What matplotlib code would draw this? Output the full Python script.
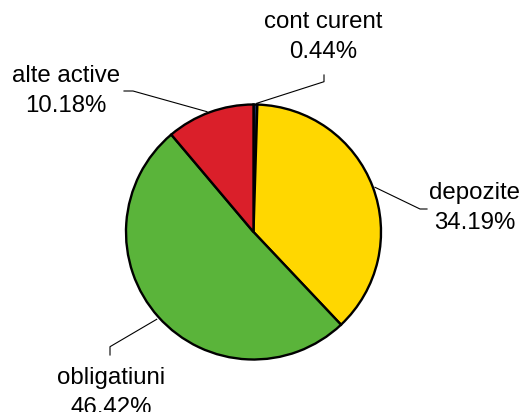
import matplotlib
matplotlib.use("Agg")
import matplotlib.pyplot as plt

plt.rcParams['font.family'] = ['Liberation Sans', 'DejaVu Sans']

categories = ["cont curent", "depozite", "obligatiuni", "alte active"]
values = [0.44, 34.19, 46.42, 10.18]
colors = ["#1F2D5C", "#FFD700", "#5AB43A", "#DA1F2A"]

W, H = 523, 412
fig = plt.figure(figsize=(W / 100, H / 100), dpi=100)
ax = fig.add_axes([0, 0, 1, 1])

cx, cy, r = 253.5, H - 232, 127.5
ax.pie(values, colors=colors, startangle=90, counterclock=False,
       center=(cx, cy), radius=r,
       wedgeprops=dict(edgecolor="black", linewidth=1.7))

ax.set_xlim(0, W)
ax.set_ylim(0, H)
ax.set_aspect("auto")
ax.axis("off")

# label layout (pixel positions, y from top)
label_pos = {
    "cont curent": (323, 22),
    "depozite": (475, 193),
    "obligatiuni": (111, 378),
    "alte active": (66, 76),
}
leaders = {
    "cont curent": [(256.7, 103.3), (324, 81.7), (324, 75)],
    "depozite": [(375, 187.3), (420, 209), (427, 209)],
    "obligatiuni": [(156.7, 319.3), (110, 346.7), (110, 355)],
    "alte active": [(124, 91), (133, 91), (207, 111.7)],
}

for cat, val in zip(categories, values):
    x, y = label_pos[cat]
    ax.text(x, H - y, cat, ha="center", va="center", fontsize=17.3, color="black")
    ax.text(x, H - y - 29.5, f"{val:.2f}%", ha="center", va="center", fontsize=17.3, color="black")
    pts = leaders[cat]
    ax.plot([p[0] for p in pts], [H - p[1] for p in pts], color="black", lw=0.8)

fig.savefig("out.png", dpi=100)
